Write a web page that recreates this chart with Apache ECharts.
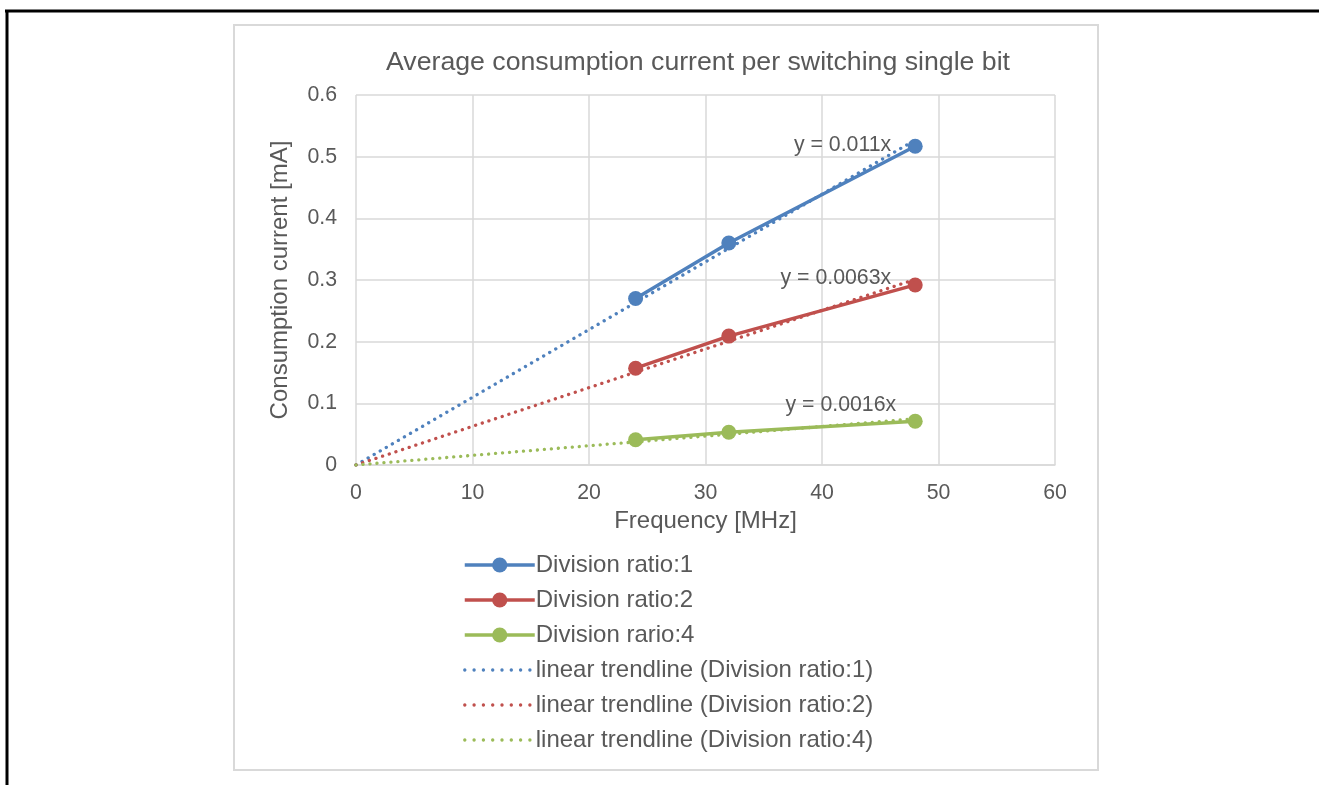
<!DOCTYPE html>
<html>
<head>
<meta charset="utf-8">
<script src="https://cdn.jsdelivr.net/npm/echarts@6/dist/echarts.min.js"></script>
<style>
html,body{margin:0;padding:0;background:#fff;}
#c{width:1319px;height:785px;}
</style>
</head>
<body>
<div id="c"></div>
<script>
// ---- data ----
const freq = [24, 32, 48];
const ratio1 = [0.270, 0.360, 0.517];
const ratio2 = [0.157, 0.209, 0.292];
const ratio4 = [0.041, 0.053, 0.071];
const trendX = [0, 48];
const trend1 = [0, 0.527];
const trend2 = [0, 0.301];
const trend4 = [0, 0.075];
const trendLabels = ['y = 0.011x', 'y = 0.0063x', 'y = 0.0016x'];
const seriesNames = ['Division ratio:1', 'Division ratio:2', 'Division rario:4',
  'linear trendline (Division ratio:1)', 'linear trendline (Division ratio:2)', 'linear trendline (Division ratio:4)'];
const xTicks = [0, 10, 20, 30, 40, 50, 60];
const yTicks = [0, 0.1, 0.2, 0.3, 0.4, 0.5, 0.6];
const colors = ['#4f81bd', '#c0504d', '#9bbb59'];

const FONT = '"Liberation Sans", Arial, sans-serif';
const TXT = '#595959';
const DOT = [0.1, 6.9];

function pairs(xs, ys) { return xs.map((x, i) => [x, ys[i]]); }

function dataSeries(name, ys, color) {
  return {
    name: name, type: 'line', data: pairs(freq, ys),
    symbol: 'circle', symbolSize: 15, z: 3,
    lineStyle: { color: color, width: 3.5 },
    itemStyle: { color: color },
    emphasis: { disabled: true }, animation: false
  };
}
function trendSeries(name, ys, color, label, offset) {
  return {
    name: name, type: 'line', data: pairs(trendX, ys), symbol: 'none', z: 4,
    lineStyle: { color: color, width: 3.3, type: DOT, cap: 'round' },
    itemStyle: { color: color },
    endLabel: { show: true, formatter: label, distance: 0, align: 'right', verticalAlign: 'middle',
      offset: offset, color: TXT, fontFamily: FONT, fontSize: 21.3 },
    emphasis: { disabled: true }, animation: false
  };
}

const legendData = seriesNames.map((n, i) => i < 3 ? { name: n } :
  { name: n, itemStyle: { color: 'rgba(0,0,0,0)', borderWidth: 0, opacity: 0 },
    lineStyle: { type: [0.1, 9.2], cap: 'round', width: 3.3 } });

const chart = echarts.init(document.getElementById('c'), null, { renderer: 'canvas' });
chart.setOption({
  animation: false,
  color: colors,
  textStyle: { fontFamily: FONT },
  graphic: [
    { type: 'line', shape: { x1: 5, y1: 11, x2: 1319, y2: 11 }, style: { stroke: '#000', lineWidth: 3 } },
    { type: 'line', shape: { x1: 7, y1: 10, x2: 7, y2: 785 }, style: { stroke: '#000', lineWidth: 3 } },
    { type: 'rect', shape: { x: 234, y: 25, width: 864, height: 745 }, style: { fill: 'none', stroke: '#d9d9d9', lineWidth: 2 }, z: -1 },
    { type: 'text', x: 698, y: 63, style: { text: 'Average consumption current per switching single bit',
      fill: TXT, font: '26.7px ' + FONT, align: 'center', verticalAlign: 'middle' } }
  ],
  grid: { left: 356, top: 95, right: 264, bottom: 320, containLabel: false },
  xAxis: {
    type: 'value', min: xTicks[0], max: xTicks[xTicks.length - 1], interval: 10,
    name: 'Frequency [MHz]', nameLocation: 'middle', nameGap: 44,
    nameTextStyle: { color: TXT, fontSize: 24, fontFamily: FONT },
    axisLine: { show: true, lineStyle: { color: '#d9d9d9', width: 1.5 } },
    axisTick: { show: false },
    axisLabel: { color: TXT, fontSize: 21.3, fontFamily: FONT, margin: 18 },
    splitLine: { show: true, lineStyle: { color: '#d9d9d9', width: 1.5 } }
  },
  yAxis: {
    type: 'value', min: yTicks[0], max: yTicks[yTicks.length - 1], interval: 0.1,
    name: 'Consumption current [mA]', nameLocation: 'middle', nameGap: 64,
    nameTextStyle: { color: TXT, fontSize: 24, fontFamily: FONT },
    axisLine: { show: false },
    axisTick: { show: false },
    axisLabel: { color: TXT, fontSize: 21.3, fontFamily: FONT, margin: 19, padding: [3, 0, 0, 0],
      formatter: v => String(Math.round(v * 10) / 10) },
    splitLine: { show: true, lineStyle: { color: '#d9d9d9', width: 1.5 } }
  },
  legend: {
    orient: 'vertical', left: 458, top: 546,
    itemWidth: 70, itemHeight: 19, itemGap: 7,
    lineStyle: { width: 3.5 },
    textStyle: { color: TXT, fontSize: 24, fontFamily: FONT, lineHeight: 28, padding: [0, 0, 0, -4] },
    data: legendData,
    selectedMode: false
  },
  series: [
    dataSeries(seriesNames[0], ratio1, colors[0]),
    dataSeries(seriesNames[1], ratio2, colors[1]),
    dataSeries(seriesNames[2], ratio4, colors[2]),
    trendSeries(seriesNames[3], trend1, colors[0], trendLabels[0], [-24, 5]),
    trendSeries(seriesNames[4], trend2, colors[1], trendLabels[1], [-24, -1]),
    trendSeries(seriesNames[5], trend4, colors[2], trendLabels[2], [-19, -14])
  ]
});
</script>
</body>
</html>
